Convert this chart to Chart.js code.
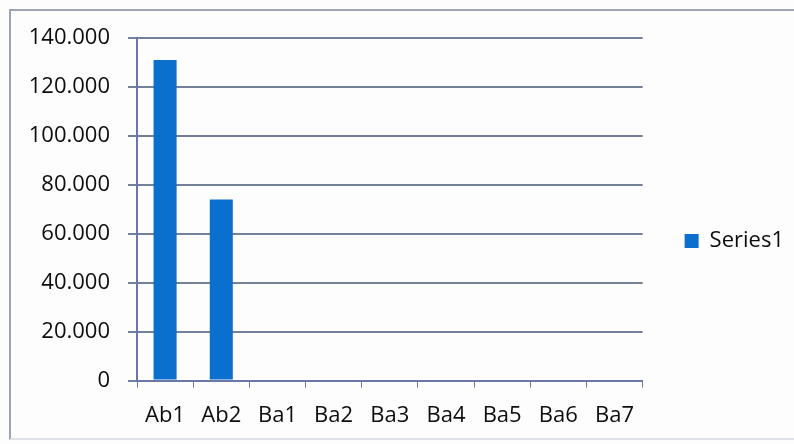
<!DOCTYPE html>
<html>
<head>
<meta charset="utf-8">
<script src="https://cdn.jsdelivr.net/npm/chart.js@4/dist/chart.umd.min.js"></script>
<style>
  html, body { margin: 0; padding: 0; background: #fdfdfe; }
  #frame {
    position: absolute; left: 9px; top: 9px; width: 785px; height: 431px;
    border: 2px solid #9ca4b4; border-right: none; box-sizing: border-box;
    border-bottom-color: #dfe2e8;
  }
  #wrap { position: absolute; left: 0; top: 0; width: 794px; height: 444px; }
</style>
</head>
<body>
<div id="frame"></div>
<div id="wrap"><canvas id="chart"></canvas></div>
<script>
const categories = ["Ab1", "Ab2", "Ba1", "Ba2", "Ba3", "Ba4", "Ba5", "Ba6", "Ba7"];
const series1 = [131000, 74000, 0, 0, 0, 0, 0, 0, 0];
const yTicks = [0, 20000, 40000, 60000, 80000, 100000, 120000, 140000];

const fontFamily = "'Open Sans', sans-serif";

const ctx = document.getElementById("chart");
new Chart(ctx, {
  type: "bar",
  data: {
    labels: categories,
    datasets: [
      {
        label: "Series1",
        data: series1,
        backgroundColor: "#0a6fcd",
        borderWidth: 0,
        barPercentage: 0.82,
        categoryPercentage: 0.5,
      },
    ],
  },
  options: {
    responsive: true,
    maintainAspectRatio: false,
    animation: false,
    layout: { padding: { top: 38, left: 26, right: 0, bottom: 0 } },
    plugins: {
      tooltip: { enabled: false },
      legend: {
        position: "right",
        labels: {
          color: "#0d0d0d",
          font: { family: fontFamily, size: 22 },
          boxWidth: 14,
          boxHeight: 14,
          padding: 42,
        },
      },
    },
    scales: {
      x: {
        grid: {
          offset: true,
          drawOnChartArea: false,
          drawTicks: true,
          tickLength: 7,
          color: "#6b78a6",
        },
        border: { color: "#6b78a6", width: 2 },
        ticks: {
          color: "#0d0d0d",
          font: { family: fontFamily, size: 22 },
          padding: 15,
          maxRotation: 0,
        },
      },
      y: {
        min: 0,
        max: 140000,
        afterBuildTicks: (scale) => {
          scale.ticks = yTicks.map((v) => ({ value: v }));
        },
        afterFit: (scale) => {
          scale.width = 111;
        },
        grid: {
          color: "#73809a",
          lineWidth: 2,
          drawTicks: true,
          tickLength: 9,
        },
        border: { color: "#6b78a6", width: 2 },
        ticks: {
          color: "#0d0d0d",
          font: { family: fontFamily, size: 22 },
          padding: 18,
          callback: (v) => (v === 0 ? "0" : v.toLocaleString("de-DE")),
        },
      },
    },
  },
});
</script>
</body>
</html>
